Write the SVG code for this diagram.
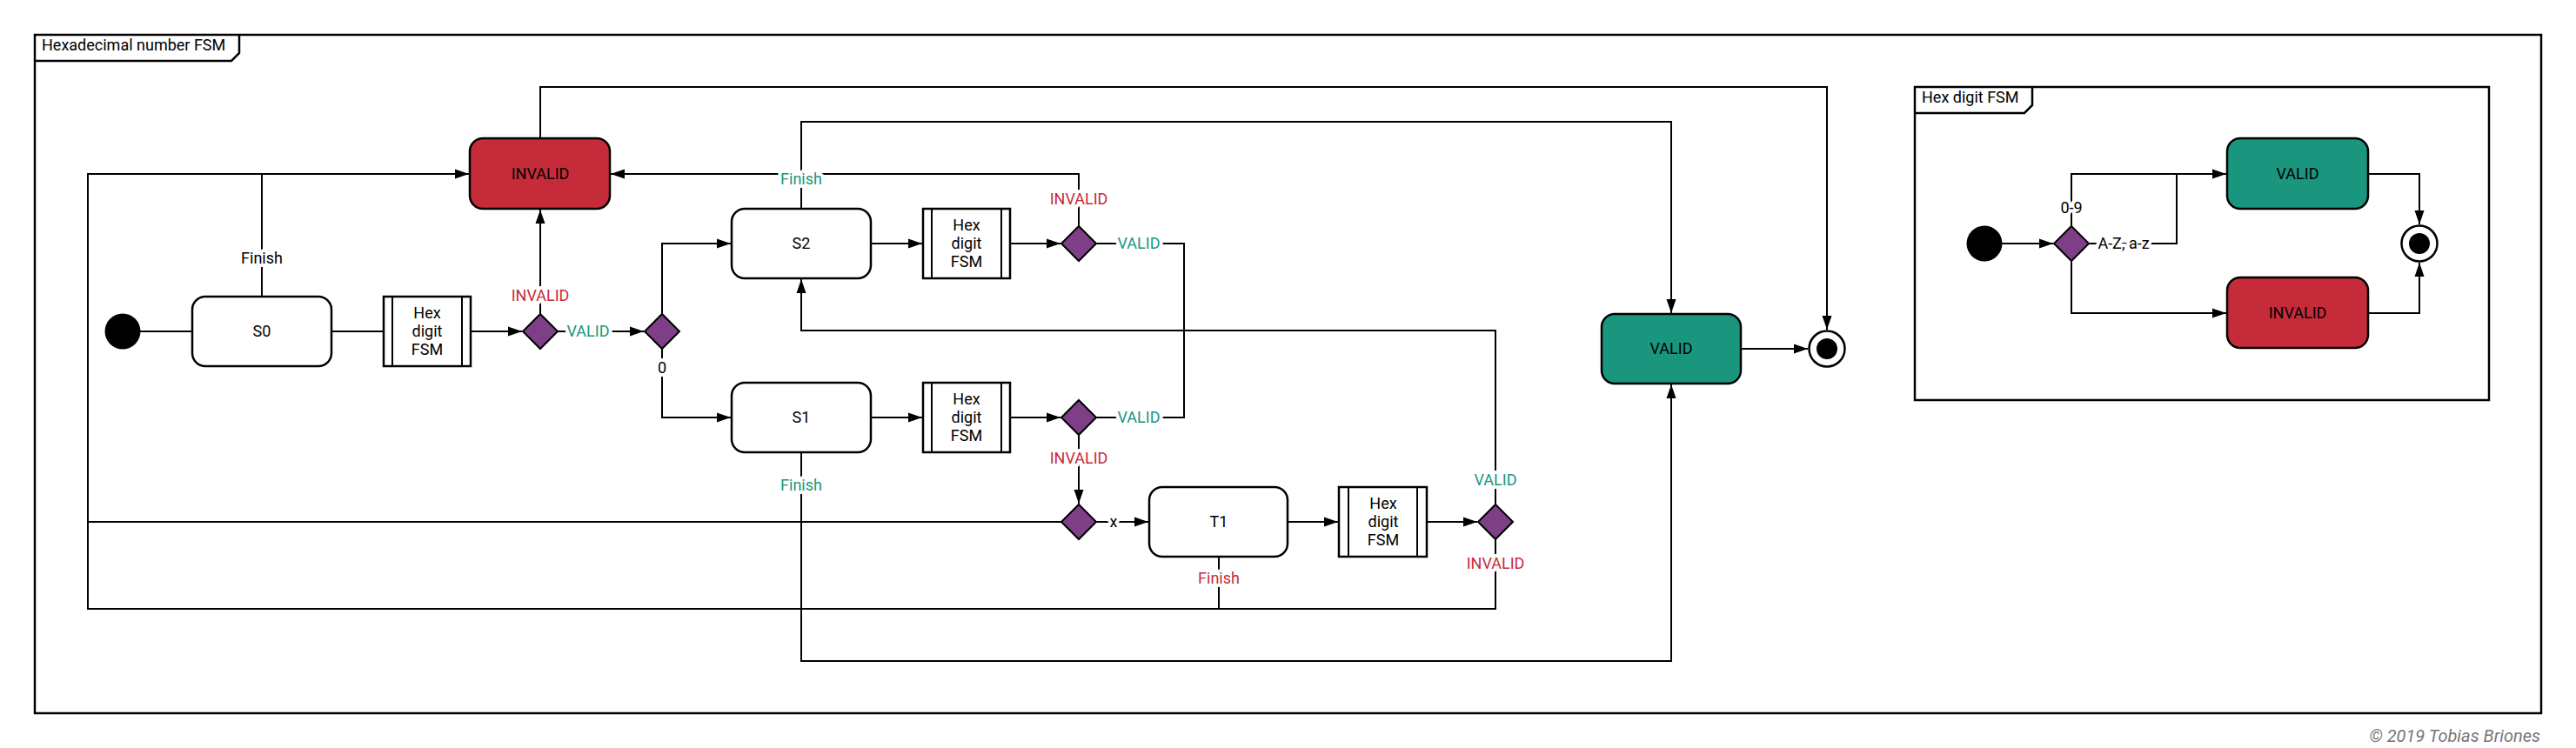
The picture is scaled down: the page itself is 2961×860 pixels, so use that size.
<svg xmlns="http://www.w3.org/2000/svg" width="2961" height="860" viewBox="0 0 2961 860">
<style>
text{font-family:Roboto,"Liberation Sans",sans-serif;font-size:18px;fill:#000}
.c{text-anchor:middle}
.frame{fill:none;stroke:#000;stroke-width:2.5}
.st{fill:#fff;stroke:#000;stroke-width:2.5}
.red{fill:#C62B3A;stroke:#000;stroke-width:2.5}
.grn{fill:#1A967E;stroke:#000;stroke-width:2.5}
.dia{fill:#7E3F87;stroke:#000;stroke-width:2}
.hex{fill:#fff;stroke:#000;stroke-width:2.5}
.in{stroke:#000;stroke-width:2}
.ln{fill:none;stroke:#000;stroke-width:2}
.ar{marker-end:url(#arr)}
.lbl{paint-order:stroke;stroke:#fff;stroke-width:8px;stroke-linejoin:round;text-anchor:middle}
.lr{fill:#C62B3A}
.lg{fill:#1A967E}
</style>
<defs>
<marker id="arr" markerUnits="userSpaceOnUse" markerWidth="16" markerHeight="12" refX="16" refY="6" orient="auto">
<path d="M0,0.5 L16,6 L0,11.5 z" fill="#000"/>
</marker>
</defs>
<rect width="2961" height="860" fill="#fff"/>

<g id="frame-main">
<rect class="frame" x="40" y="40" width="2881" height="780"/>
<path class="frame" d="M40,70 H266 L275,61 V40"/>
<text x="48" y="58">Hexadecimal number FSM</text>
</g>
<g id="frame-hex">
<rect class="frame" x="2201" y="100" width="660" height="360"/>
<path class="frame" d="M2201,130 H2327 L2336,121 V100"/>
<text x="2209" y="118">Hex digit FSM</text>
</g>

<g id="connectors">
<path class="ln" d="M161,381 H221"/>
<path class="ln" d="M381,381 H441"/>
<path class="ln ar" d="M541,381 H600"/>
<path class="ln ar" d="M621,361 V241"/>
<path class="ln ar" d="M641,381 H740"/>
<path class="ln ar" d="M761,361 V280 H840"/>
<path class="ln ar" d="M761,401 V480 H840"/>
<path class="ln ar" d="M1001,280 H1060"/>
<path class="ln ar" d="M1161,280 H1219"/>
<path class="ln ar" d="M1240,260 V200 H702"/>
<path class="ln ar" d="M921,240 V140 H1921 V360"/>
<path class="ln" d="M1260,280 H1361 V480 H1260"/>
<path class="ln ar" d="M1001,480 H1060"/>
<path class="ln ar" d="M1161,480 H1219"/>
<path class="ln ar" d="M1240,500 V579"/>
<path class="ln ar" d="M921,520 V760 H1921 V442"/>
<path class="ln" d="M1220,600 H101"/>
<path class="ln ar" d="M1719,620 V700 H101 V200 H539"/>
<path class="ln" d="M301,341 V200"/>
<path class="ln ar" d="M1260,600 H1320"/>
<path class="ln ar" d="M1480,600 H1538"/>
<path class="ln ar" d="M1641,600 H1698"/>
<path class="ln ar" d="M1719,580 V380 H921 V321"/>
<path class="ln" d="M1401,640 V700"/>
<path class="ln ar" d="M621,159 V100 H2100 V379"/>
<path class="ln ar" d="M2001,401 H2078"/>
<path class="ln ar" d="M2301,280 H2360"/>
<path class="ln ar" d="M2381,260 V200 H2559"/>
<path class="ln" d="M2401,280 H2502 V200"/>
<path class="ln ar" d="M2381,300 V360 H2559"/>
<path class="ln ar" d="M2722,200 H2781 V258"/>
<path class="ln ar" d="M2722,360 H2781 V302"/>
<text class="lbl lr" x="621" y="346">INVALID</text>
<text class="lbl lg" x="676" y="387">VALID</text>
<text class="lbl" x="761" y="429">0</text>
<text class="lbl" x="301" y="303">Finish</text>
<text class="lbl lr" x="1240" y="235">INVALID</text>
<text class="lbl lg" x="921" y="212">Finish</text>
<text class="lbl lg" x="1309" y="286">VALID</text>
<text class="lbl lg" x="1309" y="486">VALID</text>
<text class="lbl lr" x="1240" y="533">INVALID</text>
<text class="lbl lg" x="921" y="564">Finish</text>
<text class="lbl" x="1280" y="606">x</text>
<text class="lbl lg" x="1719" y="558">VALID</text>
<text class="lbl lr" x="1719" y="654">INVALID</text>
<text class="lbl lr" x="1401" y="671">Finish</text>
<text class="lbl" x="2381" y="245">0-9</text>
<text class="lbl" x="2441" y="286">A-Z, a-z</text>
</g>

<g id="start"><circle cx="141" cy="381" r="20.5" fill="#000"/></g>
<g id="S0"><rect class="st" x="221" y="341" width="160" height="80" rx="15"/><text class="c" x="301" y="387">S0</text></g>
<g id="hex0"><rect class="hex" x="441" y="341" width="100" height="80"/><path class="in" d="M451,341 V421 M531,341 V421"/>
<text class="c" x="491" y="366">Hex</text><text class="c" x="491" y="387">digit</text><text class="c" x="491" y="408">FSM</text></g>
<g id="d1"><path class="dia" d="M621,361 L641,381 L621,401 L601,381 z"/></g>
<g id="invalid"><rect class="red" x="540" y="159" width="161" height="81" rx="15"/><text class="c" x="621" y="206">INVALID</text></g>
<g id="d2"><path class="dia" d="M761,361 L781,381 L761,401 L741,381 z"/></g>
<g id="S2"><rect class="st" x="841" y="240" width="160" height="80" rx="15"/><text class="c" x="921" y="286">S2</text></g>
<g id="hex2"><rect class="hex" x="1061" y="240" width="100" height="80"/><path class="in" d="M1071,240 V320 M1151,240 V320"/>
<text class="c" x="1111" y="265">Hex</text><text class="c" x="1111" y="286">digit</text><text class="c" x="1111" y="307">FSM</text></g>
<g id="d3"><path class="dia" d="M1240,260 L1260,280 L1240,300 L1220,280 z"/></g>
<g id="S1"><rect class="st" x="841" y="440" width="160" height="80" rx="15"/><text class="c" x="921" y="486">S1</text></g>
<g id="hex1"><rect class="hex" x="1061" y="440" width="100" height="80"/><path class="in" d="M1071,440 V520 M1151,440 V520"/>
<text class="c" x="1111" y="465">Hex</text><text class="c" x="1111" y="486">digit</text><text class="c" x="1111" y="507">FSM</text></g>
<g id="d4"><path class="dia" d="M1240,460 L1260,480 L1240,500 L1220,480 z"/></g>
<g id="d5"><path class="dia" d="M1240,580 L1260,600 L1240,620 L1220,600 z"/></g>
<g id="T1"><rect class="st" x="1321" y="560" width="159" height="80" rx="15"/><text class="c" x="1401" y="606">T1</text></g>
<g id="hexT"><rect class="hex" x="1539" y="560" width="101" height="80"/><path class="in" d="M1550,560 V640 M1629,560 V640"/>
<text class="c" x="1590" y="585">Hex</text><text class="c" x="1590" y="606">digit</text><text class="c" x="1590" y="627">FSM</text></g>
<g id="d6"><path class="dia" d="M1719,580 L1739,600 L1719,620 L1699,600 z"/></g>
<g id="valid"><rect class="grn" x="1841" y="361" width="160" height="80" rx="15"/><text class="c" x="1921" y="407">VALID</text></g>
<g id="final"><circle class="st" cx="2100" cy="401" r="20.5"/><circle cx="2100" cy="401" r="12" fill="#000"/></g>

<g id="h-start"><circle cx="2281" cy="280" r="20.5" fill="#000"/></g>
<g id="h-dia"><path class="dia" d="M2381,260 L2401,280 L2381,300 L2361,280 z"/></g>
<g id="h-valid"><rect class="grn" x="2560" y="159" width="162" height="81" rx="15"/><text class="c" x="2641" y="206">VALID</text></g>
<g id="h-invalid"><rect class="red" x="2560" y="319" width="162" height="81" rx="15"/><text class="c" x="2641" y="366">INVALID</text></g>
<g id="h-final"><circle class="st" cx="2781" cy="280" r="20.5"/><circle cx="2781" cy="280" r="12" fill="#000"/></g>

<text x="2920" y="853" style="text-anchor:end;font-style:italic;font-size:20px;fill:#777">© 2019 Tobias Briones</text>
</svg>
